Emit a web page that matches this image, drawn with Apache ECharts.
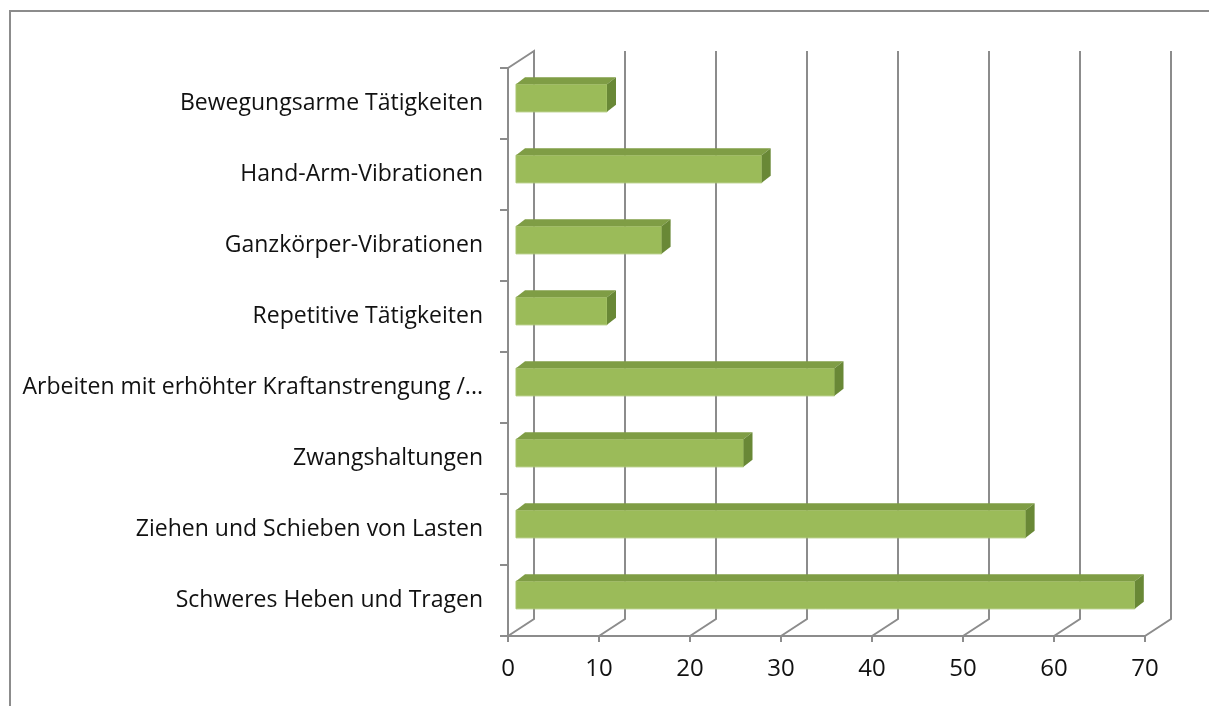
<!DOCTYPE html>
<html>
<head>
    <meta charset="utf-8" />
    <title>Belastungen</title>
    <script src="https://cdn.jsdelivr.net/npm/echarts@6/dist/echarts.min.js"></script>
    <style>
        html, body { margin: 0; padding: 0; background: #fff; }
        #main { width: 1209px; height: 706px; }
    </style>
</head>
<body>
    <div id="main"></div>
    <script type="text/javascript">
        // Kategorien von oben nach unten
        var categories = [
            'Bewegungsarme Tätigkeiten',
            'Hand-Arm-Vibrationen',
            'Ganzkörper-Vibrationen',
            'Repetitive Tätigkeiten',
            'Arbeiten mit erhöhter Kraftanstrengung /...',
            'Zwangshaltungen',
            'Ziehen und Schieben von Lasten',
            'Schweres Heben und Tragen'
        ];
        var values = [10, 27, 16, 10, 35, 25, 56, 68];
        var xTicks = [0, 10, 20, 30, 40, 50, 60, 70];

        var lineColor = '#8c8c8c';
        var font = '"Open Sans", sans-serif';
        // Versatz der Rückwand (Pseudo-3D)
        var backDx = 26, backDy = -17;

        var myChart = echarts.init(document.getElementById('main'));

        // Rückwand: Gitterlinien + Bodendiagonalen
        function renderWall(params, api) {
            var cs = params.coordSys;
            var x = api.coord([api.value(0), 0])[0];
            var top = cs.y, bottom = cs.y + cs.height;
            var pts = [[x, bottom], [x + backDx, bottom + backDy], [x + backDx, top + backDy]];
            if (api.value(0) === 0) {
                pts.push([x, top]);
            }
            return {
                type: 'polyline',
                shape: { points: pts },
                style: { stroke: lineColor, lineWidth: 2, fill: null }
            };
        }

        // Balken mit Ober- und Seitenfläche
        function renderBar(params, api) {
            var p0 = api.coord([0, api.value(1)]);
            var p1 = api.coord([api.value(0), api.value(1)]);
            var band = api.size([0, 1])[1];
            var h = band * 0.39;
            var dx = 9, dy = -7;
            var xl = p0[0] + 8, xr = p1[0] + 8;
            var yc = p0[1] - 5.5;
            var yt = yc - h / 2, yb = yc + h / 2;
            return {
                type: 'group',
                children: [
                    {
                        type: 'rect',
                        shape: { x: xl, y: yt, width: xr - xl, height: h },
                        style: { fill: '#9bbb59', stroke: '#a9c46e', lineWidth: 1 }
                    },
                    {
                        type: 'polygon',
                        shape: { points: [[xl, yt], [xr, yt], [xr + dx, yt + dy], [xl + dx, yt + dy]] },
                        style: { fill: '#7f9d45' }
                    },
                    {
                        type: 'polygon',
                        shape: { points: [[xr, yt], [xr + dx, yt + dy], [xr + dx, yb + dy], [xr, yb]] },
                        style: { fill: '#698836' }
                    }
                ]
            };
        }

        var barData = values.map(function (v, i) { return [v, i]; });
        var wallData = xTicks.map(function (v) { return [v, 0]; });

        myChart.setOption({
            animation: false,
            backgroundColor: '#fff',
            graphic: [{
                type: 'rect',
                shape: { x: 10, y: 11, width: 1400, height: 900 },
                style: { fill: null, stroke: lineColor, lineWidth: 2 },
                z: -10
            }],
            grid: { left: 508, right: 64, top: 68, bottom: 70 },
            xAxis: {
                type: 'value',
                min: 0,
                max: 70,
                interval: 10,
                axisLine: { show: true, lineStyle: { color: lineColor, width: 2 } },
                axisTick: { show: true, length: 6, lineStyle: { color: lineColor, width: 2 } },
                splitLine: { show: false },
                axisLabel: { fontFamily: font, fontSize: 24, color: '#111', margin: 21 }
            },
            yAxis: {
                type: 'category',
                inverse: true,
                data: categories,
                axisLine: { show: true, lineStyle: { color: lineColor, width: 2 } },
                axisTick: { show: true, length: 8, lineStyle: { color: lineColor, width: 2 } },
                axisLabel: { fontFamily: font, fontSize: 23, color: '#111', margin: 25 }
            },
            series: [
                {
                    type: 'custom',
                    silent: true,
                    renderItem: renderWall,
                    data: wallData,
                    z: 1
                },
                {
                    type: 'custom',
                    name: 'Belastungen',
                    renderItem: renderBar,
                    encode: { x: 0, y: 1 },
                    data: barData,
                    z: 5
                }
            ]
        });
    </script>
</body>
</html>
